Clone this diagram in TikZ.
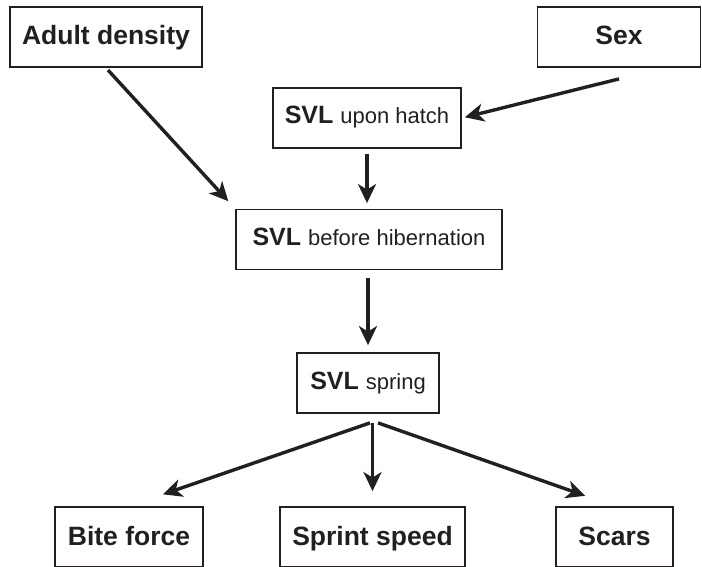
\documentclass[tikz,border=0pt]{standalone}
\usepackage{fontspec}
\setmainfont{Liberation Sans}
\usepackage{tikz}
\usetikzlibrary{arrows.meta}

\definecolor{ink}{RGB}{35,31,32}

\begin{document}
\begin{tikzpicture}[x=1pt, y=-1pt,
    box/.style={draw=ink, line width=1.8pt, rectangle, minimum height=60pt, inner sep=0pt,
                text=ink, text height=20pt, text depth=4pt, font=\fontsize{26.5}{30}\selectfont\bfseries},
    svlbox/.style={box, text height=18pt, text depth=6pt, font=\fontsize{25}{30}\selectfont\bfseries},
    link/.style={draw=ink, line width=3.4pt, -{Stealth[length=19pt, width=18pt, inset=5.5pt]}}]

    \useasboundingbox (0, 0) rectangle (702, 567);

    % draw top boxes
    \node[box, minimum width=192pt] (adult) at (106, 37) {Adult density};
    \node[box, minimum width=163pt] (sex) at (619, 37) {Sex};

    % draw SVL boxes
    \node[svlbox, minimum width=188pt] (hatch) at (367, 118) {SVL {\mdseries\fontsize{22}{26}\selectfont upon hatch}};
    \node[svlbox, minimum width=266pt] (hib) at (369, 239.5) {SVL {\mdseries\fontsize{22}{26}\selectfont before hibernation}};
    \node[svlbox, minimum width=142pt] (spring) at (368, 383) {SVL {\mdseries\fontsize{22}{26}\selectfont spring}};

    % draw bottom boxes
    \node[box, minimum width=148pt] (bite) at (129, 537) {Bite force};
    \node[box, minimum width=185pt] (sprint) at (372.5, 537) {Sprint speed};
    \node[box, minimum width=117pt] (scars) at (614.5, 537) {Scars};

    % draw arrows
    \draw[link, shorten <=3pt, shorten >=10pt] (adult.south) -- (hib.north west);
    \draw[link, shorten >=3pt] ([yshift=-11pt]sex.south) -- (hatch.east);
    \draw[link, shorten <=5pt, shorten >=5.5pt] (hatch.south) -- (hatch.south |- hib.north);
    \draw[link, shorten <=7.5pt, shorten >=7pt] (spring.north |- hib.south) -- (spring.north);

    \draw[link, shorten >=36pt] ([shift={(2pt,-9pt)}]spring.south) -- (bite.north);
    \draw[link, shorten >=15pt] ([yshift=-9pt]spring.south -| sprint.north) -- (sprint.north);
    \draw[link, shorten >=31pt] ([shift={(10pt,-9pt)}]spring.south) -- (scars.north);

\end{tikzpicture}
\end{document}
